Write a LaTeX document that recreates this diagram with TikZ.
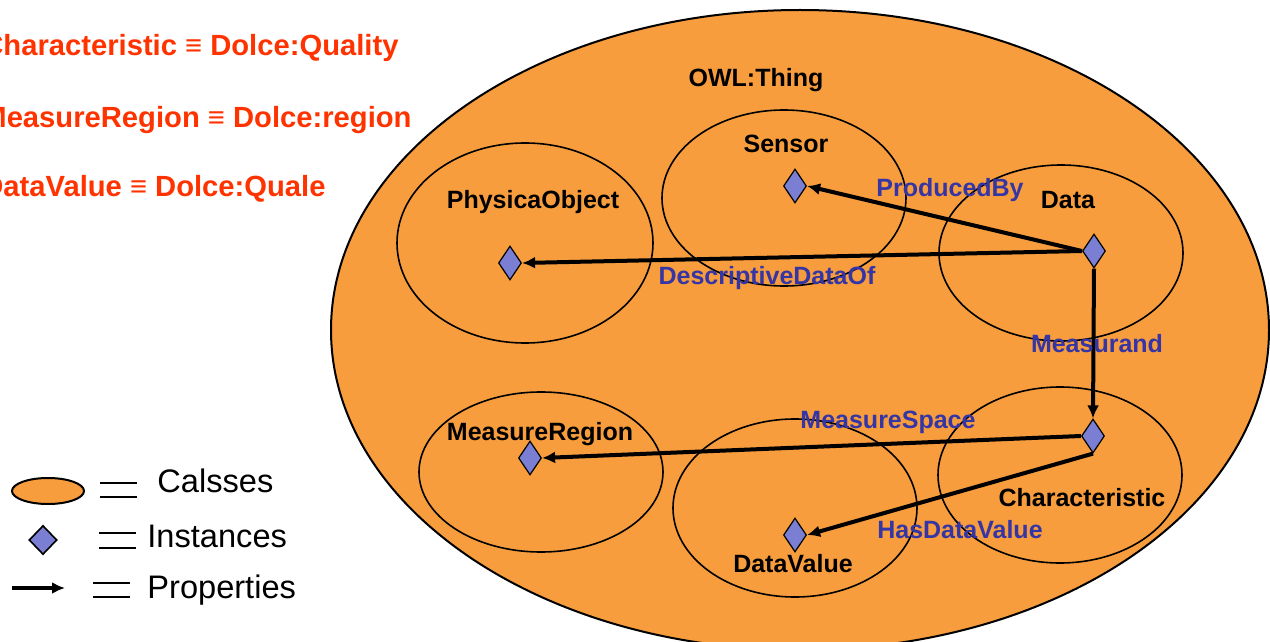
\documentclass[tikz,border=0pt]{standalone}
\usepackage{fontspec}
\setmainfont{Liberation Sans}
\usetikzlibrary{shapes.geometric,arrows.meta}
\definecolor{thingorange}{HTML}{F79D3D}
\definecolor{instblue}{HTML}{7B7FD3}
\definecolor{propblue}{HTML}{3535A5}
\definecolor{eqred}{HTML}{FF3300}
\tikzset{
  cls/.style={ellipse,draw=black,line width=0.8pt,inner sep=0pt,minimum width=122pt,minimum height=88pt},
  inst/.style={diamond,draw=black,line width=0.6pt,fill=instblue,inner sep=0pt,minimum width=11.5pt,minimum height=17pt},
  prop/.style={line width=2pt,-{Latex[length=6.5pt,width=6pt]}},
  clsname/.style={anchor=base,inner sep=0pt,font=\fontsize{12.5}{15}\selectfont\bfseries},
  propname/.style={clsname,text=propblue},
  eqname/.style={anchor=base east,inner sep=0pt,text=eqred,font=\fontsize{14.6}{17}\selectfont\bfseries},
  legname/.style={anchor=base west,inner sep=0pt,font=\fontsize{16.3}{19}\selectfont}
}
\begin{document}
\begin{tikzpicture}[x=0.5pt,y=-0.5pt]
\useasboundingbox (0,0) rectangle (1270,642);
% equivalences
\node[eqname] (eqchar) at (399,56) {Characteristic ≡ Dolce:Quality};
\node[eqname] (eqregion) at (412,128) {MeasureRegion ≡ Dolce:region};
\node[eqname] (eqvalue) at (326,197) {DataValue ≡ Dolce:Quale};
% classes
\node[cls,fill=thingorange,line width=1pt,minimum width=469pt,minimum height=320pt] (thing) at (800,330) {};
\node[cls] (sensorcls) at (784,198) {};
\node[cls,minimum width=128pt,minimum height=100pt] (physcls) at (525,243) {};
\node[cls] (datacls) at (1061,253) {};
\node[cls,minimum height=80pt] (regioncls) at (541,472) {};
\node[cls,minimum height=89pt] (valuecls) at (795,508) {};
\node[cls] (charcls) at (1060,475) {};
\node[clsname] (thinglbl) at (756,87) {OWL:Thing};
\node[clsname] (sensorlbl) at (786,153) {Sensor};
\node[clsname] (physlbl) at (533,208) {PhysicaObject};
\node[clsname] (datalbl) at (1068,208) {Data};
\node[clsname] (regionlbl) at (540,440) {MeasureRegion};
\node[clsname] (valuelbl) at (793,572) {DataValue};
\node[clsname] (charlbl) at (1082,506) {Characteristic};
% instances
\node[inst] (sensor) at (795,186) {};
\node[inst] (phys) at (510,263) {};
\node[inst] (data) at (1094,251) {};
\node[inst] (region) at (530,458) {};
\node[inst] (value) at (795,535) {};
\node[inst] (char) at (1093,436) {};
% properties
\draw[prop] (data.west) -- (sensor.east);
\draw[prop] (data.west) -- (phys.east);
\draw[prop] (data.south) -- (char.north);
\draw[prop] (char.west) -- (region.east);
\draw[prop] (char.south) -- (value.east);
\node[propname] (producedlbl) at (950,197) {ProducedBy};
\node[propname] (descrlbl) at (767,285) {DescriptiveDataOf};
\node[propname] (measurandlbl) at (1097,352) {Measurand};
\node[propname] (spacelbl) at (888,428) {MeasureSpace};
\node[propname] (hasvaluelbl) at (960,538) {HasDataValue};
% legend
\node[cls,fill=thingorange,line width=1pt,minimum width=36pt,minimum height=13pt] (legcls) at (48,491) {};
\node[inst,line width=0.8pt,minimum width=14pt,minimum height=14.5pt] (leginst) at (43,540) {};
\coordinate (legfrom) at (12,588);
\coordinate (legto) at (65,588);
\draw[prop] (legfrom) -- (legto);
\foreach \ya/\yb/\xa in {483/497/100, 533/548/99, 583/597/93} {
  \draw[line width=1pt] (\xa,\ya) -- ++(37,0);
  \draw[line width=1pt] (\xa,\yb) -- ++(37,0);
}
\node[legname] (legclstxt) at (157,492) {Calsses};
\node[legname] (leginsttxt) at (147,547) {Instances};
\node[legname] (legproptxt) at (147,598) {Properties};
\end{tikzpicture}
\end{document}
